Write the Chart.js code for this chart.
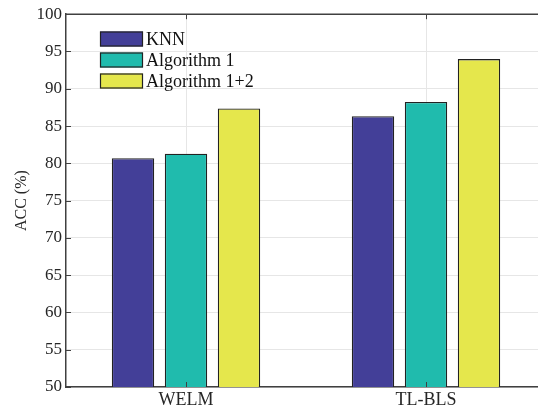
<!DOCTYPE html>
<html>
<head>
<meta charset="utf-8">
<script src="https://cdn.jsdelivr.net/npm/chart.js@4"></script>
<style>
  html, body { margin: 0; padding: 0; background: #fff; overflow: hidden; }
  #wrap { width: 547px; height: 410px; }
</style>
</head>
<body>
<div id="wrap"><canvas id="acc-chart" width="547" height="410"></canvas></div>
<script>
const categories = ['WELM', 'TL-BLS'];
const seriesNames = ['KNN', 'Algorithm 1', 'Algorithm 1+2'];
const knnValues = [80.67, 86.32];
const alg1Values = [81.28, 88.24];
const alg12Values = [87.35, 93.98];
const yTicks = [50, 55, 60, 65, 70, 75, 80, 85, 90, 95, 100];

const colors = ['#433f98', '#20bbad', '#e5e74c'];
const serif = '"Liberation Serif", "Times New Roman", serif';

// matlab style: inward ticks + top border
const boxTicks = {
    id: 'boxTicks',
    afterDraw(chart) {
        const { ctx, chartArea: a, scales } = chart;
        ctx.save();
        ctx.strokeStyle = '#404040';
        ctx.lineWidth = 1.5;
        ctx.beginPath();
        ctx.moveTo(a.left, a.top);
        ctx.lineTo(a.right, a.top);
        ctx.stroke();
        ctx.lineWidth = 1;
        ctx.beginPath();
        scales.y.ticks.forEach(t => {
            const y = Math.round(scales.y.getPixelForValue(t.value)) + 0.5;
            ctx.moveTo(a.left, y); ctx.lineTo(a.left + 5, y);
            ctx.moveTo(a.right, y); ctx.lineTo(a.right - 5, y);
        });
        categories.forEach((c, i) => {
            const x = Math.round(scales.x.getPixelForValue(i)) + 0.5;
            ctx.moveTo(x, a.bottom); ctx.lineTo(x, a.bottom - 5);
            ctx.moveTo(x, a.top); ctx.lineTo(x, a.top + 5);
        });
        ctx.stroke();
        ctx.restore();
    }
};

// legend drawn inside the plot, upper left
const innerLegend = {
    id: 'innerLegend',
    afterDraw(chart) {
        const { ctx } = chart;
        ctx.save();
        ctx.font = '18px ' + serif;
        ctx.textBaseline = 'middle';
        chart.data.datasets.forEach((ds, i) => {
            const yc = 39 + i * 21;
            ctx.fillStyle = ds.backgroundColor;
            ctx.fillRect(100, yc - 7.5, 43, 15);
            ctx.strokeStyle = '#222';
            ctx.lineWidth = 1.2;
            ctx.strokeRect(100.5, yc - 7, 42, 14);
            ctx.fillStyle = '#111';
            ctx.fillText(ds.label, 146, yc + 1);
        });
        ctx.restore();
    }
};

new Chart(document.getElementById('acc-chart'), {
    type: 'bar',
    data: {
        labels: categories,
        datasets: [knnValues, alg1Values, alg12Values].map((vals, i) => ({
            label: seriesNames[i],
            data: vals,
            backgroundColor: colors[i],
            borderColor: '#222',
            borderWidth: 1.3,
            borderSkipped: false,
            categoryPercentage: 0.6625,
            barPercentage: 0.8
        }))
    },
    options: {
        responsive: false,
        animation: false,
        layout: { padding: { top: 13, right: 1, left: 0, bottom: 0 } },
        plugins: { legend: { display: false }, tooltip: { enabled: false } },
        scales: {
            x: {
                grid: { offset: false, color: '#e6e6e6', drawTicks: false },
                border: { color: '#404040', width: 1.5 },
                ticks: { color: '#262626', font: { family: serif, size: 18 }, padding: 2 },
                afterFit(scale) { scale.height = 23; }
            },
            y: {
                min: 50,
                max: 100,
                afterBuildTicks(scale) { scale.ticks = yTicks.map(v => ({ value: v })); },
                grid: { color: '#e6e6e6', drawTicks: false },
                border: { color: '#404040', width: 1.5 },
                ticks: { color: '#262626', font: { family: serif, size: 17 }, padding: 4 },
                title: { display: true, text: 'ACC (%)', color: '#262626', font: { family: serif, size: 16 }, padding: { top: 12 } },
                afterFit(scale) { scale.width = 66; }
            }
        }
    },
    plugins: [boxTicks, innerLegend]
});
</script>
</body>
</html>
